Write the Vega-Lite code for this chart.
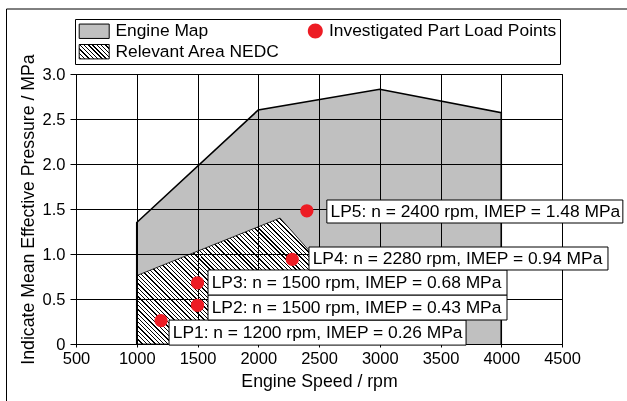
{
  "$schema": "https://vega.github.io/schema/vega-lite/v6.json",
  "width": 486,
  "height": 270,
  "autosize": {"type": "none"},
  "padding": {"left": 76, "top": 74, "right": 65, "bottom": 57},
  "background": "white",
  "config": {
    "font": "Liberation Sans",
    "view": {"stroke": "black", "strokeWidth": 1},
    "axis": {
      "domainColor": "black", "domainWidth": 1,
      "tickColor": "black", "tickWidth": 1,
      "gridColor": "black", "gridWidth": 1,
      "labelColor": "black", "labelFontSize": 16.5, "labelFont": "Liberation Sans",
      "titleColor": "black", "titleFontSize": 17.7, "titleFontWeight": "normal", "titleFont": "Liberation Sans",
      "labelFlush": false, "labelOverlap": false
    },
    "legend": {"strokeColor": "black", "strokeWidth": 1}
  },
  "datasets": {
    "mapFill": [
      {"i": 0, "rpm": 1000, "imep": 0.76},
      {"i": 1, "rpm": 1000, "imep": 1.35},
      {"i": 2, "rpm": 2000, "imep": 2.6},
      {"i": 3, "rpm": 3000, "imep": 2.83},
      {"i": 4, "rpm": 4000, "imep": 2.57},
      {"i": 5, "rpm": 4000, "imep": 0},
      {"i": 6, "rpm": 3100, "imep": 0},
      {"i": 7, "rpm": 2180, "imep": 1.4}
    ],
    "mapEdge": [
      {"i": 0, "rpm": 1000, "imep": 0},
      {"i": 1, "rpm": 1000, "imep": 1.35},
      {"i": 2, "rpm": 2000, "imep": 2.6},
      {"i": 3, "rpm": 3000, "imep": 2.83},
      {"i": 4, "rpm": 4000, "imep": 2.57},
      {"i": 5, "rpm": 4000, "imep": 0}
    ],
    "nedc": [
      {"i": 0, "rpm": 1000, "imep": 0},
      {"i": 1, "rpm": 1000, "imep": 0.76},
      {"i": 2, "rpm": 2180, "imep": 1.4},
      {"i": 3, "rpm": 3100, "imep": 0}
    ],
    "points": [
      {"id": "LP1", "series": "Investigated Part Load Points", "rpm": 1200, "imep": 0.26, "label": "LP1: n = 1200 rpm, IMEP = 0.26 MPa"},
      {"id": "LP2", "series": "Investigated Part Load Points", "rpm": 1500, "imep": 0.43, "label": "LP2: n = 1500 rpm, IMEP = 0.43 MPa"},
      {"id": "LP3", "series": "Investigated Part Load Points", "rpm": 1500, "imep": 0.68, "label": "LP3: n = 1500 rpm, IMEP = 0.68 MPa"},
      {"id": "LP4", "series": "Investigated Part Load Points", "rpm": 2280, "imep": 0.94, "label": "LP4: n = 2280 rpm, IMEP = 0.94 MPa"},
      {"id": "LP5", "series": "Investigated Part Load Points", "rpm": 2400, "imep": 1.48, "label": "LP5: n = 2400 rpm, IMEP = 1.48 MPa"}
    ]
  },
  "layer": [
    {
      "data": {"name": "mapFill"},
      "mark": {"type": "line", "interpolate": "linear-closed", "fill": "#c0c0c0", "strokeWidth": 0, "strokeOpacity": 0, "blend": "multiply"},
      "encoding": {
        "x": {
          "field": "rpm", "type": "quantitative",
          "scale": {"domain": [500, 4500], "nice": false, "zero": false},
          "axis": {
            "title": "Engine Speed / rpm",
            "values": [500, 750, 1000, 1250, 1500, 1750, 2000, 2250, 2500, 2750, 3000, 3250, 3500, 3750, 4000, 4250, 4500],
            "format": "d",
            "labelExpr": "datum.value % 500 === 0 ? datum.label : ''",
            "grid": true,
            "gridOpacity": {"condition": {"test": "datum.value % 500 === 0", "value": 1}, "value": 0},
            "tickSize": {"condition": {"test": "datum.value % 500 === 0", "value": 3}, "value": 4},
            "labelPadding": 3,
            "titlePadding": 6
          }
        },
        "y": {
          "field": "imep", "type": "quantitative",
          "scale": {"domain": [0, 3], "nice": false, "zero": false},
          "axis": {
            "title": "Indicate Mean Effective Pressure / MPa",
            "values": [0, 0.25, 0.5, 0.75, 1, 1.25, 1.5, 1.75, 2, 2.25, 2.5, 2.75, 3],
            "labelExpr": "datum.value % 0.5 === 0 ? (datum.value === 0 ? '0' : format(datum.value, '.1f')) : ''",
            "grid": true,
            "gridOpacity": {"condition": {"test": "datum.value % 0.5 === 0", "value": 1}, "value": 0},
            "tickSize": {"condition": {"test": "datum.value % 0.5 === 0", "value": 6}, "value": 3},
            "labelPadding": 5,
            "titlePadding": 5
          }
        },
        "order": {"field": "i"}
      }
    },
    {
      "data": {"name": "nedc"},
      "mark": {
        "type": "line", "interpolate": "linear-closed", "stroke": "black", "strokeWidth": 0.8, "blend": "multiply",
        "fill": {
          "gradient": "linear", "x1": 0, "y1": 1, "x2": 1.201, "y2": 0.407,
          "stops": [
            {"offset": 0.0020, "color": "#fff"}, {"offset": 0.0020, "color": "#000"}, {"offset": 0.0057, "color": "#000"}, {"offset": 0.0057, "color": "#fff"},
            {"offset": 0.0133, "color": "#fff"}, {"offset": 0.0133, "color": "#000"}, {"offset": 0.0170, "color": "#000"}, {"offset": 0.0170, "color": "#fff"},
            {"offset": 0.0246, "color": "#fff"}, {"offset": 0.0246, "color": "#000"}, {"offset": 0.0282, "color": "#000"}, {"offset": 0.0282, "color": "#fff"},
            {"offset": 0.0358, "color": "#fff"}, {"offset": 0.0358, "color": "#000"}, {"offset": 0.0395, "color": "#000"}, {"offset": 0.0395, "color": "#fff"},
            {"offset": 0.0471, "color": "#fff"}, {"offset": 0.0471, "color": "#000"}, {"offset": 0.0508, "color": "#000"}, {"offset": 0.0508, "color": "#fff"},
            {"offset": 0.0584, "color": "#fff"}, {"offset": 0.0584, "color": "#000"}, {"offset": 0.0621, "color": "#000"}, {"offset": 0.0621, "color": "#fff"},
            {"offset": 0.0697, "color": "#fff"}, {"offset": 0.0697, "color": "#000"}, {"offset": 0.0733, "color": "#000"}, {"offset": 0.0733, "color": "#fff"},
            {"offset": 0.0810, "color": "#fff"}, {"offset": 0.0810, "color": "#000"}, {"offset": 0.0846, "color": "#000"}, {"offset": 0.0846, "color": "#fff"},
            {"offset": 0.0922, "color": "#fff"}, {"offset": 0.0922, "color": "#000"}, {"offset": 0.0959, "color": "#000"}, {"offset": 0.0959, "color": "#fff"},
            {"offset": 0.1035, "color": "#fff"}, {"offset": 0.1035, "color": "#000"}, {"offset": 0.1072, "color": "#000"}, {"offset": 0.1072, "color": "#fff"},
            {"offset": 0.1148, "color": "#fff"}, {"offset": 0.1148, "color": "#000"}, {"offset": 0.1185, "color": "#000"}, {"offset": 0.1185, "color": "#fff"},
            {"offset": 0.1261, "color": "#fff"}, {"offset": 0.1261, "color": "#000"}, {"offset": 0.1297, "color": "#000"}, {"offset": 0.1297, "color": "#fff"},
            {"offset": 0.1374, "color": "#fff"}, {"offset": 0.1374, "color": "#000"}, {"offset": 0.1410, "color": "#000"}, {"offset": 0.1410, "color": "#fff"},
            {"offset": 0.1486, "color": "#fff"}, {"offset": 0.1486, "color": "#000"}, {"offset": 0.1523, "color": "#000"}, {"offset": 0.1523, "color": "#fff"},
            {"offset": 0.1599, "color": "#fff"}, {"offset": 0.1599, "color": "#000"}, {"offset": 0.1636, "color": "#000"}, {"offset": 0.1636, "color": "#fff"},
            {"offset": 0.1712, "color": "#fff"}, {"offset": 0.1712, "color": "#000"}, {"offset": 0.1749, "color": "#000"}, {"offset": 0.1749, "color": "#fff"},
            {"offset": 0.1825, "color": "#fff"}, {"offset": 0.1825, "color": "#000"}, {"offset": 0.1861, "color": "#000"}, {"offset": 0.1861, "color": "#fff"},
            {"offset": 0.1938, "color": "#fff"}, {"offset": 0.1938, "color": "#000"}, {"offset": 0.1974, "color": "#000"}, {"offset": 0.1974, "color": "#fff"},
            {"offset": 0.2050, "color": "#fff"}, {"offset": 0.2050, "color": "#000"}, {"offset": 0.2087, "color": "#000"}, {"offset": 0.2087, "color": "#fff"},
            {"offset": 0.2163, "color": "#fff"}, {"offset": 0.2163, "color": "#000"}, {"offset": 0.2200, "color": "#000"}, {"offset": 0.2200, "color": "#fff"},
            {"offset": 0.2276, "color": "#fff"}, {"offset": 0.2276, "color": "#000"}, {"offset": 0.2313, "color": "#000"}, {"offset": 0.2313, "color": "#fff"},
            {"offset": 0.2389, "color": "#fff"}, {"offset": 0.2389, "color": "#000"}, {"offset": 0.2425, "color": "#000"}, {"offset": 0.2425, "color": "#fff"},
            {"offset": 0.2502, "color": "#fff"}, {"offset": 0.2502, "color": "#000"}, {"offset": 0.2538, "color": "#000"}, {"offset": 0.2538, "color": "#fff"},
            {"offset": 0.2614, "color": "#fff"}, {"offset": 0.2614, "color": "#000"}, {"offset": 0.2651, "color": "#000"}, {"offset": 0.2651, "color": "#fff"},
            {"offset": 0.2727, "color": "#fff"}, {"offset": 0.2727, "color": "#000"}, {"offset": 0.2764, "color": "#000"}, {"offset": 0.2764, "color": "#fff"},
            {"offset": 0.2840, "color": "#fff"}, {"offset": 0.2840, "color": "#000"}, {"offset": 0.2877, "color": "#000"}, {"offset": 0.2877, "color": "#fff"},
            {"offset": 0.2953, "color": "#fff"}, {"offset": 0.2953, "color": "#000"}, {"offset": 0.2989, "color": "#000"}, {"offset": 0.2989, "color": "#fff"},
            {"offset": 0.3066, "color": "#fff"}, {"offset": 0.3066, "color": "#000"}, {"offset": 0.3102, "color": "#000"}, {"offset": 0.3102, "color": "#fff"},
            {"offset": 0.3178, "color": "#fff"}, {"offset": 0.3178, "color": "#000"}, {"offset": 0.3215, "color": "#000"}, {"offset": 0.3215, "color": "#fff"},
            {"offset": 0.3291, "color": "#fff"}, {"offset": 0.3291, "color": "#000"}, {"offset": 0.3328, "color": "#000"}, {"offset": 0.3328, "color": "#fff"},
            {"offset": 0.3404, "color": "#fff"}, {"offset": 0.3404, "color": "#000"}, {"offset": 0.3441, "color": "#000"}, {"offset": 0.3441, "color": "#fff"},
            {"offset": 0.3517, "color": "#fff"}, {"offset": 0.3517, "color": "#000"}, {"offset": 0.3553, "color": "#000"}, {"offset": 0.3553, "color": "#fff"},
            {"offset": 0.3630, "color": "#fff"}, {"offset": 0.3630, "color": "#000"}, {"offset": 0.3666, "color": "#000"}, {"offset": 0.3666, "color": "#fff"},
            {"offset": 0.3742, "color": "#fff"}, {"offset": 0.3742, "color": "#000"}, {"offset": 0.3779, "color": "#000"}, {"offset": 0.3779, "color": "#fff"},
            {"offset": 0.3855, "color": "#fff"}, {"offset": 0.3855, "color": "#000"}, {"offset": 0.3892, "color": "#000"}, {"offset": 0.3892, "color": "#fff"},
            {"offset": 0.3968, "color": "#fff"}, {"offset": 0.3968, "color": "#000"}, {"offset": 0.4005, "color": "#000"}, {"offset": 0.4005, "color": "#fff"},
            {"offset": 0.4081, "color": "#fff"}, {"offset": 0.4081, "color": "#000"}, {"offset": 0.4117, "color": "#000"}, {"offset": 0.4117, "color": "#fff"},
            {"offset": 0.4194, "color": "#fff"}, {"offset": 0.4194, "color": "#000"}, {"offset": 0.4230, "color": "#000"}, {"offset": 0.4230, "color": "#fff"},
            {"offset": 0.4306, "color": "#fff"}, {"offset": 0.4306, "color": "#000"}, {"offset": 0.4343, "color": "#000"}, {"offset": 0.4343, "color": "#fff"},
            {"offset": 0.4419, "color": "#fff"}, {"offset": 0.4419, "color": "#000"}, {"offset": 0.4456, "color": "#000"}, {"offset": 0.4456, "color": "#fff"},
            {"offset": 0.4532, "color": "#fff"}, {"offset": 0.4532, "color": "#000"}, {"offset": 0.4569, "color": "#000"}, {"offset": 0.4569, "color": "#fff"},
            {"offset": 0.4645, "color": "#fff"}, {"offset": 0.4645, "color": "#000"}, {"offset": 0.4681, "color": "#000"}, {"offset": 0.4681, "color": "#fff"},
            {"offset": 0.4758, "color": "#fff"}, {"offset": 0.4758, "color": "#000"}, {"offset": 0.4794, "color": "#000"}, {"offset": 0.4794, "color": "#fff"},
            {"offset": 0.4870, "color": "#fff"}, {"offset": 0.4870, "color": "#000"}, {"offset": 0.4907, "color": "#000"}, {"offset": 0.4907, "color": "#fff"},
            {"offset": 0.4983, "color": "#fff"}, {"offset": 0.4983, "color": "#000"}, {"offset": 0.5020, "color": "#000"}, {"offset": 0.5020, "color": "#fff"},
            {"offset": 0.5096, "color": "#fff"}, {"offset": 0.5096, "color": "#000"}, {"offset": 0.5133, "color": "#000"}, {"offset": 0.5133, "color": "#fff"},
            {"offset": 0.5209, "color": "#fff"}, {"offset": 0.5209, "color": "#000"}, {"offset": 0.5245, "color": "#000"}, {"offset": 0.5245, "color": "#fff"},
            {"offset": 0.5322, "color": "#fff"}, {"offset": 0.5322, "color": "#000"}, {"offset": 0.5358, "color": "#000"}, {"offset": 0.5358, "color": "#fff"},
            {"offset": 0.5434, "color": "#fff"}, {"offset": 0.5434, "color": "#000"}, {"offset": 0.5471, "color": "#000"}, {"offset": 0.5471, "color": "#fff"},
            {"offset": 0.5547, "color": "#fff"}, {"offset": 0.5547, "color": "#000"}, {"offset": 0.5584, "color": "#000"}, {"offset": 0.5584, "color": "#fff"},
            {"offset": 0.5660, "color": "#fff"}, {"offset": 0.5660, "color": "#000"}, {"offset": 0.5697, "color": "#000"}, {"offset": 0.5697, "color": "#fff"},
            {"offset": 0.5773, "color": "#fff"}, {"offset": 0.5773, "color": "#000"}, {"offset": 0.5809, "color": "#000"}, {"offset": 0.5809, "color": "#fff"},
            {"offset": 0.5886, "color": "#fff"}, {"offset": 0.5886, "color": "#000"}, {"offset": 0.5922, "color": "#000"}, {"offset": 0.5922, "color": "#fff"},
            {"offset": 0.5998, "color": "#fff"}, {"offset": 0.5998, "color": "#000"}, {"offset": 0.6035, "color": "#000"}, {"offset": 0.6035, "color": "#fff"},
            {"offset": 0.6111, "color": "#fff"}, {"offset": 0.6111, "color": "#000"}, {"offset": 0.6148, "color": "#000"}, {"offset": 0.6148, "color": "#fff"},
            {"offset": 0.6224, "color": "#fff"}, {"offset": 0.6224, "color": "#000"}, {"offset": 0.6261, "color": "#000"}, {"offset": 0.6261, "color": "#fff"},
            {"offset": 0.6337, "color": "#fff"}, {"offset": 0.6337, "color": "#000"}, {"offset": 0.6373, "color": "#000"}, {"offset": 0.6373, "color": "#fff"},
            {"offset": 0.6450, "color": "#fff"}, {"offset": 0.6450, "color": "#000"}, {"offset": 0.6486, "color": "#000"}, {"offset": 0.6486, "color": "#fff"},
            {"offset": 0.6562, "color": "#fff"}, {"offset": 0.6562, "color": "#000"}, {"offset": 0.6599, "color": "#000"}, {"offset": 0.6599, "color": "#fff"},
            {"offset": 0.6675, "color": "#fff"}, {"offset": 0.6675, "color": "#000"}, {"offset": 0.6712, "color": "#000"}, {"offset": 0.6712, "color": "#fff"},
            {"offset": 0.6788, "color": "#fff"}, {"offset": 0.6788, "color": "#000"}, {"offset": 0.6825, "color": "#000"}, {"offset": 0.6825, "color": "#fff"},
            {"offset": 0.6901, "color": "#fff"}, {"offset": 0.6901, "color": "#000"}, {"offset": 0.6937, "color": "#000"}, {"offset": 0.6937, "color": "#fff"},
            {"offset": 0.7014, "color": "#fff"}, {"offset": 0.7014, "color": "#000"}, {"offset": 0.7050, "color": "#000"}, {"offset": 0.7050, "color": "#fff"},
            {"offset": 0.7126, "color": "#fff"}, {"offset": 0.7126, "color": "#000"}, {"offset": 0.7163, "color": "#000"}, {"offset": 0.7163, "color": "#fff"}
          ]
        }
      },
      "encoding": {
        "x": {"field": "rpm", "type": "quantitative"},
        "y": {"field": "imep", "type": "quantitative"},
        "order": {"field": "i"}
      }
    },
    {
      "data": {"name": "mapEdge"},
      "mark": {"type": "line", "stroke": "black", "strokeWidth": 1.6},
      "encoding": {
        "x": {"field": "rpm", "type": "quantitative"},
        "y": {"field": "imep", "type": "quantitative"},
        "order": {"field": "i"}
      }
    },
    {
      "data": {"name": "points"},
      "mark": {"type": "point", "filled": true, "size": 177, "opacity": 1, "fill": "#ed1c24", "strokeWidth": 0},
      "encoding": {
        "x": {"field": "rpm", "type": "quantitative"},
        "y": {"field": "imep", "type": "quantitative"}
      }
    },
    {
      "data": {"name": "points"},
      "transform": [{"filter": "false"}],
      "mark": {"type": "point", "filled": true, "opacity": 1},
      "encoding": {
        "x": {"field": "rpm", "type": "quantitative"},
        "y": {"field": "imep", "type": "quantitative"},
        "shape": {
          "field": "series", "type": "nominal",
          "scale": {
            "domain": ["Engine Map", "Investigated Part Load Points", "Relevant Area NEDC"],
            "range": ["M-1,-0.96H3V0.96H-1Z", "M1,0A1,1,0,1,1,3,0A1,1,0,1,1,1,0Z", "M-1,-0.96H3V0.96H-1Z"]
          },
          "legend": {
            "title": null, "orient": "none", "legendX": -1, "legendY": -55,
            "columns": 2, "direction": "horizontal",
            "padding": 3, "rowPadding": 1, "columnPadding": 11.6,
            "labelFont": "Liberation Sans", "labelFontSize": 17.4, "labelColor": "black", "labelOffset": 20, "labelLimit": 400,
            "symbolSize": 225, "symbolOffset": 0, "symbolStrokeWidth": 1, "symbolOpacity": 1
          }
        },
        "fill": {
          "field": "series", "type": "nominal",
          "scale": {
            "domain": ["Engine Map", "Investigated Part Load Points", "Relevant Area NEDC"],
            "range": [
              "#c0c0c0",
              "#ed1c24",
              {"expr": "{gradient: 'linear', x1: 0, y1: 1, x2: 1.2029, y2: 0.4226, stops: [{offset: 0.02, color: '#fff'}, {offset: 0.02, color: '#000'}, {offset: 0.0515, color: '#000'}, {offset: 0.0515, color: '#fff'}, {offset: 0.1169, color: '#fff'}, {offset: 0.1169, color: '#000'}, {offset: 0.1484, color: '#000'}, {offset: 0.1484, color: '#fff'}, {offset: 0.2137, color: '#fff'}, {offset: 0.2137, color: '#000'}, {offset: 0.2452, color: '#000'}, {offset: 0.2452, color: '#fff'}, {offset: 0.3106, color: '#fff'}, {offset: 0.3106, color: '#000'}, {offset: 0.3421, color: '#000'}, {offset: 0.3421, color: '#fff'}, {offset: 0.4074, color: '#fff'}, {offset: 0.4074, color: '#000'}, {offset: 0.4389, color: '#000'}, {offset: 0.4389, color: '#fff'}, {offset: 0.5043, color: '#fff'}, {offset: 0.5043, color: '#000'}, {offset: 0.5358, color: '#000'}, {offset: 0.5358, color: '#fff'}, {offset: 0.6011, color: '#fff'}, {offset: 0.6011, color: '#000'}, {offset: 0.6326, color: '#000'}, {offset: 0.6326, color: '#fff'}, {offset: 0.698, color: '#fff'}, {offset: 0.698, color: '#000'}, {offset: 0.7295, color: '#000'}, {offset: 0.7295, color: '#fff'}, {offset: 0.7948, color: '#fff'}, {offset: 0.7948, color: '#000'}, {offset: 0.8263, color: '#000'}, {offset: 0.8263, color: '#fff'}, {offset: 0.8917, color: '#fff'}, {offset: 0.8917, color: '#000'}, {offset: 0.9232, color: '#000'}, {offset: 0.9232, color: '#fff'}, {offset: 0.9885, color: '#fff'}, {offset: 0.9885, color: '#000'}, {offset: 1, color: '#000'}]}"}
            ]
          },
          "legend": {
            "title": null, "orient": "none", "legendX": -1, "legendY": -55,
            "columns": 2, "direction": "horizontal",
            "padding": 3, "rowPadding": 1, "columnPadding": 11.6,
            "labelFont": "Liberation Sans", "labelFontSize": 17.4, "labelColor": "black", "labelOffset": 20, "labelLimit": 400,
            "symbolSize": 225, "symbolOffset": 0, "symbolStrokeWidth": 1, "symbolOpacity": 1
          }
        },
        "stroke": {
          "field": "series", "type": "nominal",
          "scale": {
            "domain": ["Engine Map", "Investigated Part Load Points", "Relevant Area NEDC"],
            "range": ["#000000", "transparent", "#000000"]
          },
          "legend": {
            "title": null, "orient": "none", "legendX": -1, "legendY": -55,
            "columns": 2, "direction": "horizontal",
            "padding": 3, "rowPadding": 1, "columnPadding": 11.6,
            "labelFont": "Liberation Sans", "labelFontSize": 17.4, "labelColor": "black", "labelOffset": 20, "labelLimit": 400,
            "symbolSize": 225, "symbolOffset": 0, "symbolStrokeWidth": 1, "symbolOpacity": 1
          }
        },
        "strokeDash": {
          "datum": "figure frame",
          "scale": {"range": [[1, 0]]},
          "legend": {
            "title": null, "orient": "none", "legendX": -70, "legendY": -65.5, "columns": 1,
            "padding": 1000, "symbolOpacity": 0, "labelExpr": "''",
            "encode": {"legend": {"strokeWidth": {"value": 2}}}
          }
        }
      }
    },
    {
      "data": {"name": "points"},
      "transform": [{"filter": "datum.id === 'LP1'"}],
      "mark": {"type": "point", "shape": "M8,-0.5H305V24.5H8Z", "size": 4, "filled": true, "fill": "white", "stroke": "black", "strokeWidth": 1, "opacity": 1},
      "encoding": {"x": {"field": "rpm", "type": "quantitative"}, "y": {"field": "imep", "type": "quantitative"}}
    },
    {
      "data": {"name": "points"},
      "transform": [{"filter": "datum.id === 'LP1'"}],
      "mark": {"type": "text", "align": "left", "baseline": "middle", "dx": 11.7, "dy": 12, "font": "Liberation Sans", "fontSize": 17.4, "color": "black"},
      "encoding": {"x": {"field": "rpm", "type": "quantitative"}, "y": {"field": "imep", "type": "quantitative"}, "text": {"field": "label"}}
    },
    {
      "data": {"name": "points"},
      "transform": [{"filter": "datum.id === 'LP2'"}],
      "mark": {"type": "point", "shape": "M10.5,-10.3H309.5V14.7H10.5Z", "size": 4, "filled": true, "fill": "white", "stroke": "black", "strokeWidth": 1, "opacity": 1},
      "encoding": {"x": {"field": "rpm", "type": "quantitative"}, "y": {"field": "imep", "type": "quantitative"}}
    },
    {
      "data": {"name": "points"},
      "transform": [{"filter": "datum.id === 'LP2'"}],
      "mark": {"type": "text", "align": "left", "baseline": "middle", "dx": 14.2, "dy": 2.2, "font": "Liberation Sans", "fontSize": 17.4, "color": "black"},
      "encoding": {"x": {"field": "rpm", "type": "quantitative"}, "y": {"field": "imep", "type": "quantitative"}, "text": {"field": "label"}}
    },
    {
      "data": {"name": "points"},
      "transform": [{"filter": "datum.id === 'LP3'"}],
      "mark": {"type": "point", "shape": "M10.5,-12.8H309.5V12.2H10.5Z", "size": 4, "filled": true, "fill": "white", "stroke": "black", "strokeWidth": 1, "opacity": 1},
      "encoding": {"x": {"field": "rpm", "type": "quantitative"}, "y": {"field": "imep", "type": "quantitative"}}
    },
    {
      "data": {"name": "points"},
      "transform": [{"filter": "datum.id === 'LP3'"}],
      "mark": {"type": "text", "align": "left", "baseline": "middle", "dx": 14.2, "dy": -0.3, "font": "Liberation Sans", "fontSize": 17.4, "color": "black"},
      "encoding": {"x": {"field": "rpm", "type": "quantitative"}, "y": {"field": "imep", "type": "quantitative"}, "text": {"field": "label"}}
    },
    {
      "data": {"name": "points"},
      "transform": [{"filter": "datum.id === 'LP4'"}],
      "mark": {"type": "point", "shape": "M16.7,-12.4H315.7V10.6H16.7Z", "size": 4, "filled": true, "fill": "white", "stroke": "black", "strokeWidth": 1, "opacity": 1},
      "encoding": {"x": {"field": "rpm", "type": "quantitative"}, "y": {"field": "imep", "type": "quantitative"}}
    },
    {
      "data": {"name": "points"},
      "transform": [{"filter": "datum.id === 'LP4'"}],
      "mark": {"type": "text", "align": "left", "baseline": "middle", "dx": 20.4, "dy": -0.9, "font": "Liberation Sans", "fontSize": 17.4, "color": "black"},
      "encoding": {"x": {"field": "rpm", "type": "quantitative"}, "y": {"field": "imep", "type": "quantitative"}, "text": {"field": "label"}}
    },
    {
      "data": {"name": "points"},
      "transform": [{"filter": "datum.id === 'LP5'"}],
      "mark": {"type": "point", "shape": "M20,-10.8H316V12.2H20Z", "size": 4, "filled": true, "fill": "white", "stroke": "black", "strokeWidth": 1, "opacity": 1},
      "encoding": {"x": {"field": "rpm", "type": "quantitative"}, "y": {"field": "imep", "type": "quantitative"}}
    },
    {
      "data": {"name": "points"},
      "transform": [{"filter": "datum.id === 'LP5'"}],
      "mark": {"type": "text", "align": "left", "baseline": "middle", "dx": 23.7, "dy": 0.7, "font": "Liberation Sans", "fontSize": 17.4, "color": "black"},
      "encoding": {"x": {"field": "rpm", "type": "quantitative"}, "y": {"field": "imep", "type": "quantitative"}, "text": {"field": "label"}}
    }
  ]
}
